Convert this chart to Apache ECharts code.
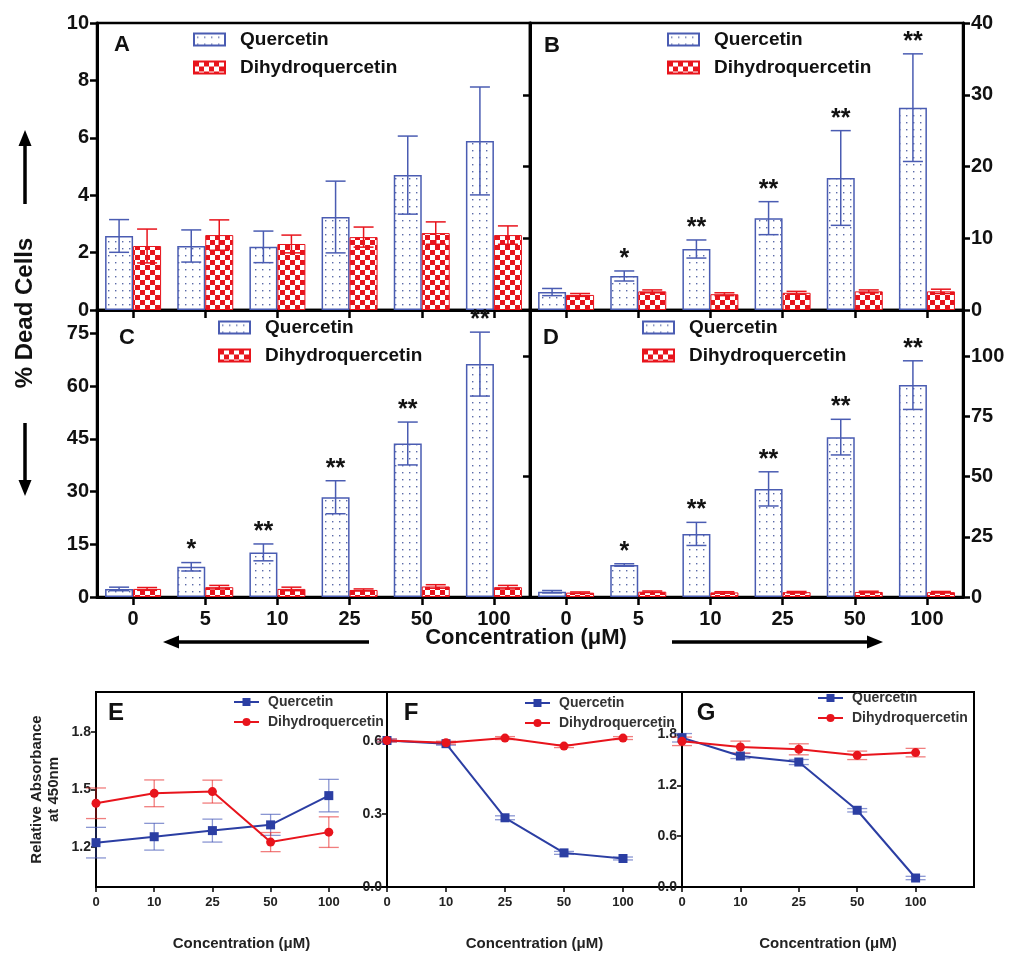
<!DOCTYPE html>
<html>
<head>
<meta charset="utf-8">
<script src="https://cdn.jsdelivr.net/npm/echarts@6/dist/echarts.min.js"></script>
<style>
  html, body { margin: 0; padding: 0; background: #fff; }
  #main { width: 1022px; height: 963px; }
</style>
</head>
<body>
<div id="main"></div>
<script>
// concentrations (x categories)
var catBar = ['0', '5', '10', '25', '50', '100'];
var catLine = ['0', '10', '25', '50', '100'];

// panel A - % dead cells
var quercA = [2.58, 2.23, 2.20, 3.24, 4.70, 5.89];
var quercAErr = [0.57, 0.56, 0.55, 1.25, 1.36, 1.88];
var dhqA = [2.23, 2.61, 2.30, 2.54, 2.68, 2.61];
var dhqAErr = [0.59, 0.53, 0.31, 0.35, 0.39, 0.32];
var sigA = ['', '', '', '', '', ''];

// panel B
var quercB = [2.5, 4.74, 8.5, 12.8, 18.4, 28.2];
var quercBErr = [0.5, 0.7, 1.26, 2.3, 6.6, 7.5];
var dhqB = [2.1, 2.6, 2.2, 2.4, 2.6, 2.6];
var dhqBErr = [0.2, 0.2, 0.2, 0.2, 0.2, 0.3];
var sigB = ['', '*', '**', '**', '**', '**'];

// panel C
var quercC = [2.3, 8.6, 12.7, 28.4, 43.7, 66.3];
var quercCErr = [0.5, 1.2, 2.4, 4.7, 6.1, 9.1];
var dhqC = [2.3, 2.8, 2.3, 2.0, 3.0, 2.8];
var dhqCErr = [0.4, 0.5, 0.5, 0.3, 0.5, 0.5];
var sigC = ['', '*', '**', '**', '**', '**'];

// panel D
var quercD = [2.2, 13.3, 26.2, 44.9, 66.4, 88.0];
var quercDErr = [0.5, 0.5, 4.8, 7.1, 7.4, 10.1];
var dhqD = [1.8, 2.2, 1.9, 2.0, 2.1, 2.0];
var dhqDErr = [0.3, 0.3, 0.3, 0.3, 0.3, 0.3];
var sigD = ['', '*', '**', '**', '**', '**'];

// panels E, F, G - relative absorbance at 450nm
var quercE = [1.222, 1.253, 1.285, 1.315, 1.468];
var quercEErr = [0.08, 0.07, 0.06, 0.055, 0.085];
var dhqE = [1.428, 1.48, 1.489, 1.225, 1.277];
var dhqEErr = [0.08, 0.07, 0.06, 0.05, 0.08];

var quercF = [0.601, 0.588, 0.284, 0.14, 0.117];
var quercFErr = [0.006, 0.006, 0.008, 0.006, 0.006];
var dhqF = [0.601, 0.592, 0.611, 0.578, 0.611];
var dhqFErr = [0.006, 0.006, 0.006, 0.006, 0.006];

var quercG = [1.76, 1.545, 1.474, 0.905, 0.106];
var quercGErr = [0.05, 0.03, 0.03, 0.02, 0.02];
var dhqG = [1.718, 1.651, 1.624, 1.553, 1.585];
var dhqGErr = [0.05, 0.07, 0.065, 0.05, 0.05];

var FONT = '"Liberation Sans", Arial, sans-serif';
var BLUE = '#4a5cb2';
var RED = '#e8141c';
var LBLUE = '#2b3ea3';
var BAR_W = 28;

// fill patterns
function dotPattern() {
  var c = document.createElement('canvas');
  c.width = 7; c.height = 7;
  var g = c.getContext('2d');
  g.fillStyle = '#fff'; g.fillRect(0, 0, 7, 7);
  g.fillStyle = '#5a6aa8'; g.fillRect(3, 3, 1.4, 1.4);
  return { image: c, repeat: 'repeat' };
}
function checkPattern() {
  var c = document.createElement('canvas');
  c.width = 10; c.height = 10;
  var g = c.getContext('2d');
  g.fillStyle = '#fff'; g.fillRect(0, 0, 10, 10);
  g.fillStyle = RED;
  g.fillRect(0, 0, 5, 5); g.fillRect(5, 5, 5, 5);
  return { image: c, repeat: 'repeat' };
}
var dots = dotPattern();
var checks = checkPattern();

// error bars (+ significance stars) drawn through the axes
function errRender(dx, color, capW, lw, sig) {
  return function (params, api) {
    var x = api.value(0), v = api.value(1), e = api.value(2);
    var hi = api.coord([x, v + e]);
    var lo = api.coord([x, v - e]);
    var cx = hi[0] + dx;
    var st = { stroke: color, lineWidth: lw };
    var kids = [
      { type: 'line', shape: { x1: cx, y1: hi[1], x2: cx, y2: lo[1] }, style: st },
      { type: 'line', shape: { x1: cx - capW / 2, y1: hi[1], x2: cx + capW / 2, y2: hi[1] }, style: st },
      { type: 'line', shape: { x1: cx - capW / 2, y1: lo[1], x2: cx + capW / 2, y2: lo[1] }, style: st }
    ];
    if (sig && sig[params.dataIndex]) {
      kids.push({ type: 'text', style: { text: sig[params.dataIndex], x: cx, y: hi[1] - 12,
        align: 'center', verticalAlign: 'middle', fontSize: 25, fontWeight: 'bold', fontFamily: FONT, fill: '#111' } });
    }
    return { type: 'group', children: kids };
  };
}

function errData(vals, errs) {
  return vals.map(function (v, i) { return [i, v, errs[i]]; });
}

function barSeries(xi, yi, q, qe, d, de, sig) {
  return [
    { name: 'Quercetin', type: 'bar', xAxisIndex: xi, yAxisIndex: yi, data: q, barWidth: BAR_W, barGap: '0%',
      itemStyle: { color: dots, borderColor: BLUE, borderWidth: 1.5 } },
    { name: 'Dihydroquercetin', type: 'bar', xAxisIndex: xi, yAxisIndex: yi, data: d, barWidth: BAR_W, barGap: '0%',
      itemStyle: { color: checks, borderColor: RED, borderWidth: 1 } },
    { type: 'custom', xAxisIndex: xi, yAxisIndex: yi, z: 5, data: errData(q, qe), encode: { x: 0, y: 1 },
      renderItem: errRender(-BAR_W / 2, BLUE, 20, 1.5, sig) },
    { type: 'custom', xAxisIndex: xi, yAxisIndex: yi, z: 5, data: errData(d, de), encode: { x: 0, y: 1 },
      renderItem: errRender(BAR_W / 2, RED, 20, 1.5, null) }
  ];
}

function lineSeries(xi, yi, q, qe, d, de) {
  return [
    { type: 'custom', xAxisIndex: xi, yAxisIndex: yi, z: 1, data: errData(q, qe), encode: { x: 0, y: 1 },
      renderItem: errRender(0, 'rgba(60,80,180,0.6)', 20, 1.3, null) },
    { type: 'custom', xAxisIndex: xi, yAxisIndex: yi, z: 1, data: errData(d, de), encode: { x: 0, y: 1 },
      renderItem: errRender(0, 'rgba(232,40,40,0.6)', 20, 1.3, null) },
    { name: 'Quercetin_L', type: 'line', xAxisIndex: xi, yAxisIndex: yi, z: 3,
      data: q.map(function (v, i) { return [i, v]; }),
      symbol: 'rect', symbolSize: 9, lineStyle: { color: LBLUE, width: 2 }, itemStyle: { color: LBLUE } },
    { name: 'Dihydroquercetin_L', type: 'line', xAxisIndex: xi, yAxisIndex: yi, z: 3,
      data: d.map(function (v, i) { return [i, v]; }),
      symbol: 'circle', symbolSize: 9, lineStyle: { color: RED, width: 2 }, itemStyle: { color: RED } }
  ];
}

var bigLabel = { fontSize: 20, fontWeight: 'bold', color: '#111', fontFamily: FONT };
var smallLabel = { fontSize: 13, fontWeight: 'bold', color: '#222', fontFamily: FONT };
var thickLine = { show: true, lineStyle: { color: '#000', width: 3 } };
var thinLine = { show: true, lineStyle: { color: '#000', width: 2 } };
var bigTick = { show: true, length: 7, lineStyle: { color: '#000', width: 2.5 } };
var smallTick = { show: true, length: 5, lineStyle: { color: '#000', width: 1.5 } };

function catX(gi, showLabels) {
  return { type: 'category', gridIndex: gi, data: catBar, axisLine: thickLine,
    axisTick: { show: true, alignWithLabel: true, length: 8, lineStyle: { color: '#000', width: 2.5 } },
    axisLabel: { show: showLabels, margin: 12, fontSize: 20, fontWeight: 'bold', color: '#111', fontFamily: FONT } };
}
function valY(gi, pos, max, vals, showLabels) {
  return { type: 'value', gridIndex: gi, position: pos, min: 0, max: max, splitLine: { show: false },
    axisLine: thickLine, axisTick: Object.assign({ customValues: vals }, bigTick),
    axisLabel: Object.assign({ show: showLabels, customValues: vals, margin: 8 }, bigLabel) };
}
function lineX(gi) {
  return { type: 'value', gridIndex: gi, min: 0, max: 5, splitLine: { show: false },
    axisLine: thinLine, axisTick: Object.assign({ customValues: [0, 1, 2, 3, 4] }, smallTick),
    axisLabel: Object.assign({ customValues: [0, 1, 2, 3, 4], margin: 9,
      formatter: function (v) { return catLine[v]; } }, smallLabel),
    name: 'Concentration (\u03bcM)', nameLocation: 'middle', nameGap: 49,
    nameTextStyle: { fontSize: 15, fontWeight: 'bold', color: '#222', fontFamily: FONT } };
}
function lineY(gi, min, max, vals) {
  return { type: 'value', gridIndex: gi, min: min, max: max, splitLine: { show: false },
    axisLine: thinLine, axisTick: Object.assign({ customValues: vals }, smallTick),
    axisLabel: { customValues: vals, margin: 5, fontSize: 14, fontWeight: 'bold', color: '#222', fontFamily: FONT,
      formatter: function (v) { return v.toFixed(1); } } };
}

function barLegend(left, top) {
  return { data: ['Quercetin', 'Dihydroquercetin'], left: left, top: top, orient: 'vertical', icon: 'rect',
    itemWidth: 31, itemHeight: 12, itemGap: 9, selectedMode: false,
    textStyle: { fontSize: 19, fontWeight: 'bold', color: '#111', fontFamily: FONT, padding: [0, 0, 0, 10] } };
}
function lineLegend(left, top) {
  return { data: ['Quercetin_L', 'Dihydroquercetin_L'], left: left, top: top, orient: 'vertical',
    itemWidth: 25, itemHeight: 10, itemGap: 6, selectedMode: false,
    formatter: function (n) { return n.replace('_L', ''); },
    textStyle: { fontSize: 14, fontWeight: 'bold', color: '#333', fontFamily: FONT, padding: [0, 0, 0, 4] } };
}

function panelLetter(t, x, y, size) {
  return { type: 'text', x: x, y: y, style: { text: t, align: 'center', verticalAlign: 'middle',
    fontSize: size, fontWeight: 'bold', fontFamily: FONT, fill: '#111' } };
}
function arrow(x1, y1, x2, y2) {
  var ang = Math.atan2(y2 - y1, x2 - x1);
  var L = 16, W = 6.5;
  var bx = x2 - L * Math.cos(ang), by = y2 - L * Math.sin(ang);
  var px = -Math.sin(ang) * W, py = Math.cos(ang) * W;
  return [
    { type: 'line', shape: { x1: x1, y1: y1, x2: bx, y2: by }, style: { stroke: '#000', lineWidth: 3.5 } },
    { type: 'polygon', shape: { points: [[x2, y2], [bx + px, by + py], [bx - px, by - py]] }, style: { fill: '#000' } }
  ];
}

var myChart = echarts.init(document.getElementById('main'));

var gridBox = { show: true, borderColor: '#000', borderWidth: 2.5, backgroundColor: 'transparent' };
var gridBoxS = { show: true, borderColor: '#000', borderWidth: 2, backgroundColor: 'transparent' };

var option = {
  backgroundColor: '#fff',
  animation: false,
  grid: [
    Object.assign({ left: 97, top: 23, width: 433, height: 287 }, gridBox),
    Object.assign({ left: 530, top: 23, width: 433, height: 287 }, gridBox),
    Object.assign({ left: 97, top: 310, width: 433, height: 287 }, gridBox),
    Object.assign({ left: 530, top: 310, width: 433, height: 287 }, gridBox),
    Object.assign({ left: 96, top: 692, width: 291, height: 195 }, gridBoxS),
    Object.assign({ left: 387, top: 692, width: 295, height: 195 }, gridBoxS),
    Object.assign({ left: 682, top: 692, width: 292, height: 195 }, gridBoxS)
  ],
  xAxis: [
    catX(0, false), catX(1, false), catX(2, true), catX(3, true),
    lineX(4), lineX(5), lineX(6)
  ],
  yAxis: [
    valY(0, 'left', 10, [0, 2, 4, 6, 8, 10], true),
    valY(1, 'right', 40, [0, 10, 20, 30, 40], true),
    valY(1, 'left', 40, [10, 20, 30], false),
    valY(2, 'left', 81.7, [0, 15, 30, 45, 60, 75], true),
    valY(3, 'right', 119.2, [0, 25, 50, 75, 100], true),
    valY(3, 'left', 119.2, [50, 100], false),
    Object.assign(lineY(4, 0.99, 2.01, [1.2, 1.5, 1.8]), {
      name: 'Relative Absorbance\nat 450nm', nameLocation: 'middle', nameRotate: 90, nameGap: 34,
      nameTextStyle: { fontSize: 15, fontWeight: 'bold', color: '#222', fontFamily: FONT, lineHeight: 17 } }),
    lineY(5, 0, 0.8, [0, 0.3, 0.6]),
    lineY(6, 0, 2.3, [0, 0.6, 1.2, 1.8])
  ],
  legend: [
    barLegend(188, 25), barLegend(662, 25), barLegend(213, 313), barLegend(637, 313),
    lineLegend(228, 690), lineLegend(519, 691), lineLegend(812, 686)
  ],
  series: [].concat(
    barSeries(0, 0, quercA, quercAErr, dhqA, dhqAErr, sigA),
    barSeries(1, 1, quercB, quercBErr, dhqB, dhqBErr, sigB),
    barSeries(2, 3, quercC, quercCErr, dhqC, dhqCErr, sigC),
    barSeries(3, 4, quercD, quercDErr, dhqD, dhqDErr, sigD),
    lineSeries(4, 6, quercE, quercEErr, dhqE, dhqEErr),
    lineSeries(5, 7, quercF, quercFErr, dhqF, dhqFErr),
    lineSeries(6, 8, quercG, quercGErr, dhqG, dhqGErr)
  ),
  graphic: [].concat(
    [
      panelLetter('A', 122, 45, 22), panelLetter('B', 552, 46, 22),
      panelLetter('C', 127, 338, 22), panelLetter('D', 551, 338, 22),
      panelLetter('E', 116, 713, 24), panelLetter('F', 411, 713, 24), panelLetter('G', 706, 713, 24),
      { type: 'text', x: 25, y: 313, rotation: Math.PI / 2, style: { text: '% Dead Cells', align: 'center',
        verticalAlign: 'middle', fontSize: 24, fontWeight: 'bold', fontFamily: FONT, fill: '#111' } },
      { type: 'text', x: 526, y: 638, style: { text: 'Concentration (\u03bcM)', align: 'center',
        verticalAlign: 'middle', fontSize: 22, fontWeight: 'bold', fontFamily: FONT, fill: '#111' } }
    ],
    arrow(25, 204, 25, 130),
    arrow(25, 423, 25, 496),
    arrow(369, 642, 163, 642),
    arrow(672, 642, 883, 642)
  )
};

myChart.setOption(option);

window.addEventListener('resize', function () {
  myChart.resize();
});
</script>
</body>
</html>
